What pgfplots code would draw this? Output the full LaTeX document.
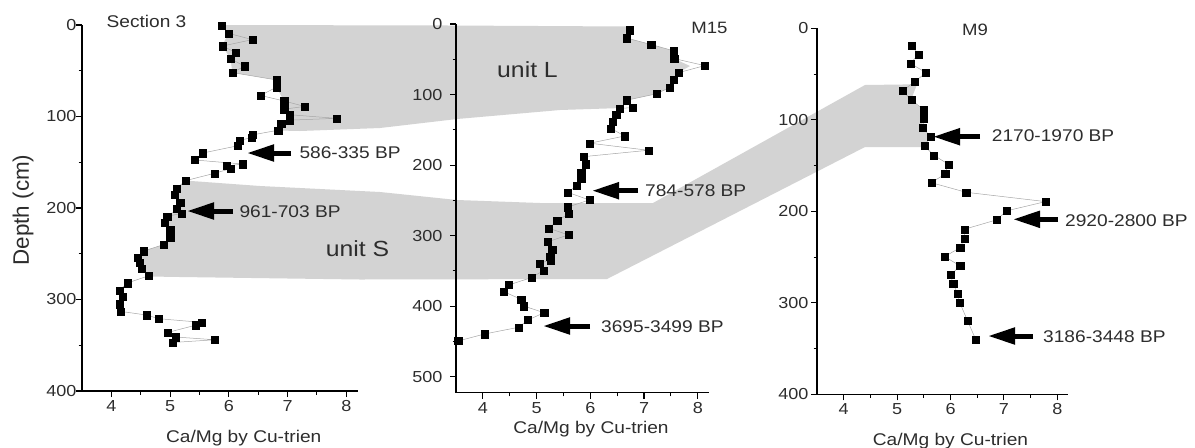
\documentclass[border=0pt]{standalone}
\usepackage{pgfplots}
\pgfplotsset{compat=1.18}
\usepackage{fontspec}
\setmainfont[FakeStretch=1.13]{Liberation Sans}
\newfontfamily\plainsans{Liberation Sans}
\usetikzlibrary{arrows.meta}
\definecolor{band}{RGB}{211,211,211}
\definecolor{txt}{RGB}{45,45,45}
\pgfplotsset{
  core/.style={
    scale only axis, y dir=reverse,
    axis x line*=bottom, axis y line*=left,
    axis line style={-, line width=1.1bp, black},
    every outer x axis line/.append style={-},
    every outer y axis line/.append style={-},
    xmin=3.5, xmax=8.2, xtick={4,5,6,7,8},
    minor x tick num=1, minor y tick num=1,
    tick align=outside, major tick length=6bp, minor tick length=3.5bp,
    tick style={black, line width=1.1bp},
    /pgf/number format/assume math mode=true,
    tick label style={font=\fontsize{16}{16}\selectfont, text=txt},
    clip=false,
  },
  dat/.style={line width=0.5bp, color=gray!70, mark=square*, mark size=3.6bp,
    mark options={fill=black, draw=black, line width=0.2bp}},
}
\newcommand{\lab}{\fontsize{17}{17}\selectfont\color{txt}}
\begin{document}
\begin{tikzpicture}
\path[use as bounding box] (0,0) rectangle (1195bp,-448bp);
% ---------- background: correlation bands, arrows, texts ----------
\begin{axis}[at={(597.5bp,-224bp)}, anchor=center, scale only axis,
  width=1195bp, height=448bp, xmin=0, xmax=1195, ymin=0, ymax=448,
  y dir=reverse, hide axis, clip=false]
% unit L
\addplot[fill=band, draw=none] coordinates {
(221.8,25) (228.2,33.2) (222.3,46.0) (230.6,58.9) (232.3,72.6) (276.4,79.9)
(276.4,87.2) (284.0,100.9) (284.0,109.2) (289.3,114.7) (289.3,120.2) (281.1,123.8)
(278.1,130.5) (300,131) (380,128) (457,119) (560,110) (622,108) (626.8,100.2)
(656.3,93.8) (669.7,87.5) (673.5,79.7) (678.3,72.7) (690,66) (674,58.6)
(673.5,50.8) (651,44.5) (626.8,38.1) (629.5,30) (628,26.5) (450,25.5) } -- cycle;
% unit S
\addplot[fill=band, draw=none] coordinates {
(185.9,180.6) (260,186) (380,192) (457,200) (540,203) (653,203) (865,85)
(917,84.3) (911,100) (923,110) (923,118) (922,128) (930,137) (924,147) (865,147)
(607,279) (360,279.5) (180,277) (149,276.5) (141.3,268.4) (139.5,262.9)
(137.2,257.4) (143.7,251) (163.6,244.6) (170.1,237.3) (170.1,230) (164.2,222.6)
(167.1,216.2) (176.5,208.9) (180.1,202.5) (174.8,194.3) (176.5,188.3) } -- cycle;
% arrows
\tikzset{bigarrow/.style={line width=5bp, -{Triangle[length=27bp,width=16bp]}}}
\draw[bigarrow] (axis cs:291,153) -- (axis cs:247,153);
\draw[bigarrow] (axis cs:233,211) -- (axis cs:187,211);
\draw[bigarrow] (axis cs:638,190.7) -- (axis cs:592,190.7);
\draw[bigarrow] (axis cs:590,326) -- (axis cs:543,326);
\draw[bigarrow] (axis cs:980,136.7) -- (axis cs:933,136.7);
\draw[bigarrow] (axis cs:1058,219.3) -- (axis cs:1013,219.3);
\draw[bigarrow] (axis cs:1033,336) -- (axis cs:988,336);
% dates
\tikzset{dl/.style={anchor=base west, inner sep=0pt, font=\lab}}
\node[dl] at (axis cs:299.3,158) {586-335 BP};
\node[dl] at (axis cs:239.3,217.3) {961-703 BP};
\node[dl] at (axis cs:645,196.5) {784-578 BP};
\node[dl] at (axis cs:601,332) {3695-3499 BP};
\node[dl] at (axis cs:991.7,141.7) {2170-1970 BP};
\node[dl] at (axis cs:1065,226) {2920-2800 BP};
\node[dl] at (axis cs:1043,342) {3186-3448 BP};
% titles and labels
\tikzset{tl/.style={anchor=base, inner sep=0pt}}
\node[tl, font=\lab] at (axis cs:146.5,27.5) {Section 3};
\node[tl, font=\fontsize{16.5}{16.5}\selectfont\color{txt}] at (axis cs:709.5,33.3) {M15};
\node[tl, font=\fontsize{16.5}{16.5}\selectfont\color{txt}] at (axis cs:975,35) {M9};
\node[tl, font=\fontsize{22}{22}\selectfont\color{txt}] at (axis cs:527.5,77.3) {unit L};
\node[tl, font=\fontsize{22}{22}\selectfont\color{txt}] at (axis cs:357.5,256.7) {unit S};
\node[inner sep=0pt, rotate=90, font=\plainsans\fontsize{22.5}{22.5}\selectfont\color{txt}] at (axis cs:23,210) {Depth (cm)};
\node[tl, font=\lab] at (axis cs:243.7,442.5) {Ca/Mg by Cu-trien};
\node[tl, font=\lab] at (axis cs:591,433.5) {Ca/Mg by Cu-trien};
\node[tl, font=\lab] at (axis cs:950.5,445.5) {Ca/Mg by Cu-trien};
\end{axis}
% ---------- Section 3 ----------
\begin{axis}[core, at={(220bp,-208bp)}, anchor=center, width=276bp, height=366bp,
  ymin=0, ymax=400, ytick={0,100,...,400}, yticklabel style={xshift=4bp}]
\addplot[dat] table {
x y
5.88 1
5.99 9
6.40 16
5.89 23
6.12 30
6.03 37
6.27 45
6.06 52
6.81 60
6.81 68
6.54 77
6.94 83
7.29 89
6.94 92
7.03 98
7.83 102
7.03 104
6.89 107.5
6.84 115
6.41 120
6.39 123
6.19 126
6.15 132
5.55 140
5.42 147.5
6.24 152
5.96 154
6.03 157
5.76 162
5.27 170
5.11 178.5
5.08 185
5.17 194
5.11 201
5.19 206
4.95 209
4.90 216
5.00 224
5.00 232
4.89 240
4.55 247
4.44 254
4.48 260
4.51 266
4.64 274
4.27 282
4.14 290
4.19 297
4.14 305
4.16 313
4.60 317
4.81 321
5.54 325
5.44 328
4.96 336
5.10 341
5.76 344
5.04 347
};
\end{axis}
% ---------- M15 ----------
\begin{axis}[core, at={(582.25bp,-208.45bp)}, anchor=center, width=252.5bp, height=368.9bp,
  ymin=0, ymax=523, ytick={0,100,...,500}, yticklabel style={xshift=-4bp}]
\addplot[dat] table {
x y
6.73 8.5
6.68 20
7.13 29
7.55 38
7.56 49
8.13 59
7.64 69
7.55 79
7.48 90
7.23 99
6.68 108
6.78 118.6
6.55 119.6
6.48 129
6.42 138.5
6.38 148
6.64 158.8
5.99 169
7.08 179
5.88 188
5.91 198.5
5.83 211
5.83 219
5.75 229
5.58 238.6
5.98 249.5
5.58 259.5
5.60 269.2
5.38 279
5.23 289.6
5.59 299
5.20 309
5.29 319.4
5.25 329.8
5.26 334.6
5.06 339.3
5.13 349.6
4.90 359.6
4.48 370
4.39 379.5
4.71 390.3
4.76 399.8
5.14 409.3
4.84 419.6
4.66 430
4.03 439.5
3.54 449.4
};
\end{axis}
% ---------- M9 ----------
\begin{axis}[core, at={(942.5bp,-211.3bp)}, anchor=center, width=251bp, height=366bp,
  ymin=0, ymax=400, ytick={0,100,...,400}, yticklabel style={xshift=1bp}]
\addplot[dat] table {
x y
5.27 19
5.40 28.4
5.25 38.3
5.54 48.5
5.33 58.3
5.10 68.5
5.27 78.3
5.50 89.3
5.50 98.4
5.48 108.6
5.62 118.4
5.51 128.6
5.69 138.8
5.96 148.6
5.90 159.2
5.64 168.7
6.29 179.2
7.78 189.4
7.05 199.5
6.86 209.4
6.26 219.6
6.26 229.5
6.18 239.7
5.89 249.5
6.18 259.7
6.00 269.5
6.05 279.4
6.13 289.6
6.17 299.4
6.32 319.8
6.47 339.8
};
\end{axis}
\end{tikzpicture}
\end{document}
